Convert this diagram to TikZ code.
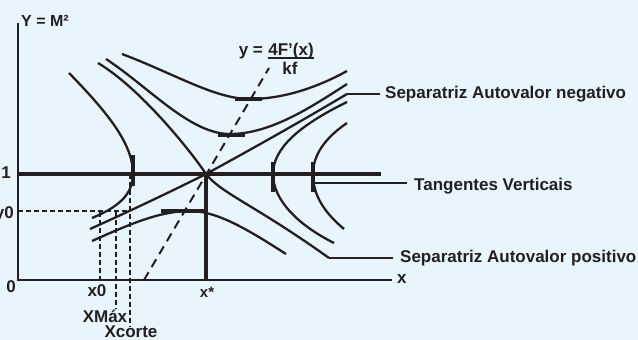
\documentclass[tikz,border=0pt]{standalone}
\usepackage{fontspec}
\setmainfont{Liberation Sans}
\usetikzlibrary{positioning}

\definecolor{fundo}{RGB}{233,245,252}
\definecolor{tinta}{RGB}{35,31,32}

\begin{document}
\begin{tikzpicture}[
    x=1pt, y=-1pt,
    font=\fontsize{17}{19}\selectfont\bfseries,
    % Estilos das linhas
    eixo/.style={draw=tinta, line width=1.2pt},
    grossa/.style={draw=tinta, line width=4pt},
    marca/.style={draw=tinta, line width=3.5pt},
    curva/.style={draw=tinta, line width=2.3pt},
    guia/.style={draw=tinta, line width=1.1pt, dash pattern=on 5pt off 3pt},
    reta/.style={draw=tinta, line width=2pt, dash pattern=on 9pt off 6pt},
    ligacao/.style={draw=tinta, line width=1.6pt},
    rotulo/.style={text=tinta, inner sep=0pt, anchor=base west},
    valor/.style={text=tinta, inner sep=0pt, anchor=base}
]

% -------------------------
% FUNDO
% -------------------------
\fill[fundo] (0,0) rectangle (638,340);
\useasboundingbox (0,0) rectangle (638,340);

% -------------------------
% EIXOS
% -------------------------
\coordinate (origem) at (18,280);
\coordinate (sela) at (206,174);
\draw[eixo] (18,23) -- (origem) -- (392,280);

\node[rotulo, font=\fontsize{16}{18}\selectfont\bfseries] (eixoY) at (21,27) {Y = M²};
\node[rotulo] (eixoX) at (397,283) {x};
\node[valor, anchor=base east] (zero) at (16,292) {0};
\node[valor, anchor=base east] (um) at (11,178) {1};
\node[valor, anchor=base east] (yzero) at (14,218) {y0};

% Linhas auxiliares
\draw[guia] (18,211) -- (130,211);
\draw[guia] (100,212) -- (100,280);
\draw[guia] (116,212) -- (116,309);
\draw[guia] (130,174) -- (130,327);

\node[valor] (xzero) at (97,296) {x0};
\node[valor] (xmax) at (105,322) {XMáx};
\node[valor] (xcorte) at (131,337) {Xcorte};
\node[valor, font=\fontsize{15}{17}\selectfont\bfseries] (xestrela) at (207,297) {x*};

% -------------------------
% RETA y = 4F'(x)/kf
% -------------------------
\draw[reta] (144,280) -- (269,68);
\node[valor] (numer) at (291,55) {4F'(x)};
\node[valor] (denom) at (290,74) {kf};
\node[valor, anchor=base east] (yeq) at ([xshift=-5pt]numer.base west) {y =};
\draw[tinta, line width=1.5pt] ([yshift=-3pt]numer.base west) -- ([yshift=-3pt]numer.base east);

% -------------------------
% TRAJETORIAS
% -------------------------
\draw[curva] (122,54) .. controls (175,74) and (215,99) .. (250,99) .. controls (285,99) and (320,86) .. (347,71);
\draw[curva] (106,59) .. controls (150,88) and (190,134) .. (230,134) .. controls (270,134) and (310,108) .. (347,84);

% Separatrizes
\draw[curva] (98,63) .. controls (140,88) and (190,150) .. (sela) .. controls (222,194) and (255,205) .. (329,258);
\draw[curva] (90,229) .. controls (130,211) and (170,192) .. (sela) .. controls (250,150) and (300,122) .. (347,94);

% Tangentes verticais
\draw[curva] (69,73) .. controls (110,115) and (133,145) .. (133,174) .. controls (133,196) and (116,208) .. (92,218);
\draw[curva] (347,102) .. controls (300,125) and (273,148) .. (273,174) .. controls (273,200) and (298,225) .. (334,243);
\draw[curva] (347,123) .. controls (325,138) and (313,155) .. (313,174) .. controls (313,196) and (325,213) .. (344,229);

% Curva inferior
\draw[curva] (92,241) .. controls (130,224) and (160,211) .. (190,211) .. controls (218,211) and (250,231) .. (286,254);

% -------------------------
% LINHAS GROSSAS E MARCAS
% -------------------------
\draw[grossa] (18,174) -- (381,174);
\draw[grossa] (sela) -- (sela |- origem);
\draw[grossa] (161,211) -- (206,211);

\draw[marca] (235,99) -- (262,99);
\draw[marca] (218,135) -- (245,135);
\draw[marca] (133,155) -- (133,186);
\draw[marca] (273,162) -- (273,192);
\draw[marca] (313,162) -- (313,192);

% -------------------------
% LEGENDAS
% -------------------------
\coordinate (negFim) at (347,94);
\coordinate (tangPt) at (313,183);
\coordinate (posFim) at (329,258);

\node[rotulo] (negLabel) at (385,98) {Separatriz Autovalor negativo};
\node[rotulo] (tangLabel) at (414,190) {Tangentes Verticais};
\node[rotulo] (posLabel) at (400,262) {Separatriz Autovalor positivo};

\draw[ligacao, shorten >=5pt] (negFim) -- (negLabel.west |- negFim);
\draw[ligacao, shorten >=7pt] (tangPt) -- (tangLabel.west |- tangPt);
\draw[ligacao, shorten >=7pt] (posFim) -- (posLabel.west |- posFim);

\end{tikzpicture}
\end{document}
